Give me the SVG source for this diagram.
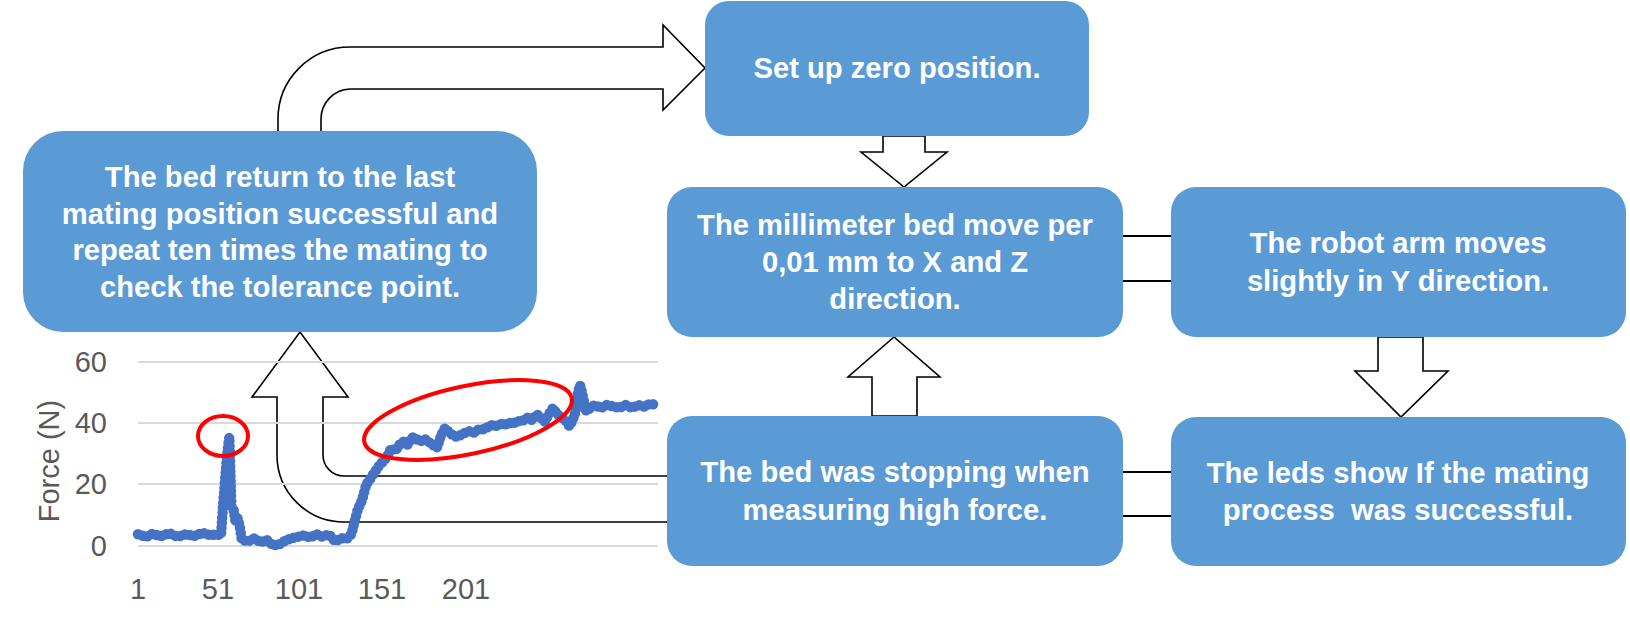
<svg xmlns="http://www.w3.org/2000/svg" width="1630" height="622" viewBox="0 0 1630 622">
<style>
.box{fill:#5B9BD5}
.t{font-family:"Liberation Sans",Arial,sans-serif;font-weight:bold;font-size:29.2px;fill:#ffffff;text-anchor:middle}
.arrow{fill:#ffffff;stroke:#000000;stroke-width:1.6;stroke-linejoin:miter}
.link{stroke:#000000;stroke-width:2}
.grid{stroke:#d9d9d9;stroke-width:2}
.ax{font-family:"Liberation Sans",Arial,sans-serif;font-size:29px;fill:#595959}
.ring{fill:none;stroke:#FF0000;stroke-width:4}
.series{fill:none;stroke:#4472C4;stroke-linejoin:round;stroke-linecap:round}
</style>
<defs>
<polyline id="data" points="138,534.3 146.3,536.8 152.5,533.7 160.8,536.2 169.1,533.1 177.4,536.8 185.7,534.3 194,535.9 202.3,532.8 210.6,535.3 216.9,534.3 221,535.3 223.1,504.6 225.2,478.5 227.2,454 229.3,437.1 231.4,506.1 233.5,509.2 235.5,521.5 237.6,518.4 239.7,526.1 241.8,539.9 248,541.4 254.2,538.3 260.4,542.3 266.7,539.9 272.9,545.4 279.1,544.5 285.3,540.5 291.6,538.3 297.8,536.8 304,535.3 310.2,537.4 316.5,534.3 322.7,536.8 328.9,534.3 335.1,541.4 341.4,538.3 347.6,538.3 351.7,533.7 353.8,524.5 357.9,509.2 362.1,500 366.2,484.7 370.4,478.5 374.5,472.4 378.7,466.3 382.8,461.7 387,457.1 391.2,447.9 395.3,450.9 399.5,444.8 403.6,441.7 407.8,444.8 411.9,437.1 416.1,438.7 420.2,441.7 424.4,438.7 428.5,441.7 432.7,444.8 436.8,447.9 441,435.6 445.1,427.9 449.3,432.5 453.4,435.6 457.6,437.1 461.7,434.1 465.9,432.5 470,431 474.2,432.5 478.3,429.5 482.5,429.5 486.6,427.9 490.8,424.9 494.9,426.4 499.1,424.9 503.2,423.3 507.4,424.9 511.5,421.8 515.7,423.3 519.8,420.3 524,420.3 528.1,417.2 532.3,420.3 536.4,414.1 540.6,417.2 544.7,421.8 548.9,414.1 553,408 557.2,414.1 561.3,417.2 565.5,420.3 569.6,426.4 573.8,417.2 575.8,411.1 577.9,392.7 580,385 582.1,392.7 584.1,401.9 586.2,411.1 590.4,408 594.5,404.9 600.7,408 607,404.9 613.2,406.5 619.4,408 625.6,404.9 631.9,408 638.1,404.9 644.3,406.5 650.5,403.4 654.7,404.9"/>
</defs>
<rect width="1630" height="622" fill="#ffffff"/>
<g id="connectors">
  <path class="arrow" d="M278,136 L278,119 A72,72 0 0 1 350,47 L663,47 L663,25 L705,68 L663,110 L663,89 L350,89 A30,30 0 0 0 321,119 L321,136 Z"/>
  <path class="arrow" d="M672,522 L344,522 A67,67 0 0 1 277,455 L277,397 L252,397 L300,332 L348,397 L323,397 L323,455 A21,21 0 0 0 344,476 L672,476 Z"/>
  <polygon class="arrow" points="883,136 925,136 925,152 947,152 904,187 861,152 883,152"/>
  <polygon class="arrow" points="872,416 872,377 848,377 894,337 940,377 917,377 917,416"/>
  <polygon class="arrow" points="1378,337 1423,337 1423,371 1448,371 1401,417 1355,371 1378,371"/>
  <line class="link" x1="1123" y1="236" x2="1171" y2="236"/>
  <line class="link" x1="1123" y1="281" x2="1171" y2="281"/>
  <line class="link" x1="1123" y1="472" x2="1171" y2="472"/>
  <line class="link" x1="1123" y1="516" x2="1171" y2="516"/>
</g>
<g id="chart">
  <line class="grid" x1="138" y1="362" x2="658" y2="362"/>
  <line class="grid" x1="138" y1="423" x2="658" y2="423"/>
  <line class="grid" x1="138" y1="484" x2="658" y2="484"/>
  <line class="grid" x1="138" y1="546" x2="658" y2="546"/>
  <text class="ax" x="107" y="372" text-anchor="end">60</text>
  <text class="ax" x="107" y="433" text-anchor="end">40</text>
  <text class="ax" x="107" y="494" text-anchor="end">20</text>
  <text class="ax" x="107" y="556" text-anchor="end">0</text>
  <text class="ax" x="138" y="599" text-anchor="middle">1</text>
  <text class="ax" x="218" y="599" text-anchor="middle">51</text>
  <text class="ax" x="299" y="599" text-anchor="middle">101</text>
  <text class="ax" x="382" y="599" text-anchor="middle">151</text>
  <text class="ax" x="466" y="599" text-anchor="middle">201</text>
  <text class="ax" transform="translate(59,461) rotate(-90)" text-anchor="middle">Force (N)</text>
  <use href="#data" class="series" stroke-width="5"/>
  <use href="#data" class="series" stroke-width="10.5" stroke-dasharray="0 5"/>
  <ellipse class="ring" cx="223" cy="436" rx="25" ry="20"/>
  <ellipse class="ring" cx="468" cy="420" rx="106" ry="34" transform="rotate(-12 468 420)"/>
</g>
<g id="node-return">
  <rect class="box" x="23" y="131" width="514" height="201" rx="40" ry="40"/>
  <text class="t" x="280" y="187">The bed return to the last</text>
  <text class="t" x="280" y="223.5">mating position successful and</text>
  <text class="t" x="280" y="260">repeat ten times the mating to</text>
  <text class="t" x="280" y="296.5">check the tolerance point.</text>
</g>
<g id="node-zero">
  <rect class="box" x="705" y="1" width="384" height="135" rx="24" ry="24"/>
  <text class="t" x="897" y="78">Set up zero position.</text>
</g>
<g id="node-millimeter">
  <rect class="box" x="667" y="187" width="456" height="150" rx="25" ry="25"/>
  <text class="t" x="895" y="235">The millimeter bed move per</text>
  <text class="t" x="895" y="272">0,01 mm to X and Z</text>
  <text class="t" x="895" y="309">direction.</text>
</g>
<g id="node-robot">
  <rect class="box" x="1171" y="187" width="455" height="150" rx="25" ry="25"/>
  <text class="t" x="1398" y="253">The robot arm moves</text>
  <text class="t" x="1398" y="291">slightly in Y direction.</text>
</g>
<g id="node-stopping">
  <rect class="box" x="667" y="416" width="456" height="150" rx="25" ry="25"/>
  <text class="t" x="895" y="482">The bed was stopping when</text>
  <text class="t" x="895" y="520">measuring high force.</text>
</g>
<g id="node-leds">
  <rect class="box" x="1171" y="417" width="455" height="149" rx="25" ry="25"/>
  <text class="t" x="1398" y="483">The leds show If the mating</text>
  <text class="t" x="1398" y="520" xml:space="preserve">process  was successful.</text>
</g>
</svg>
